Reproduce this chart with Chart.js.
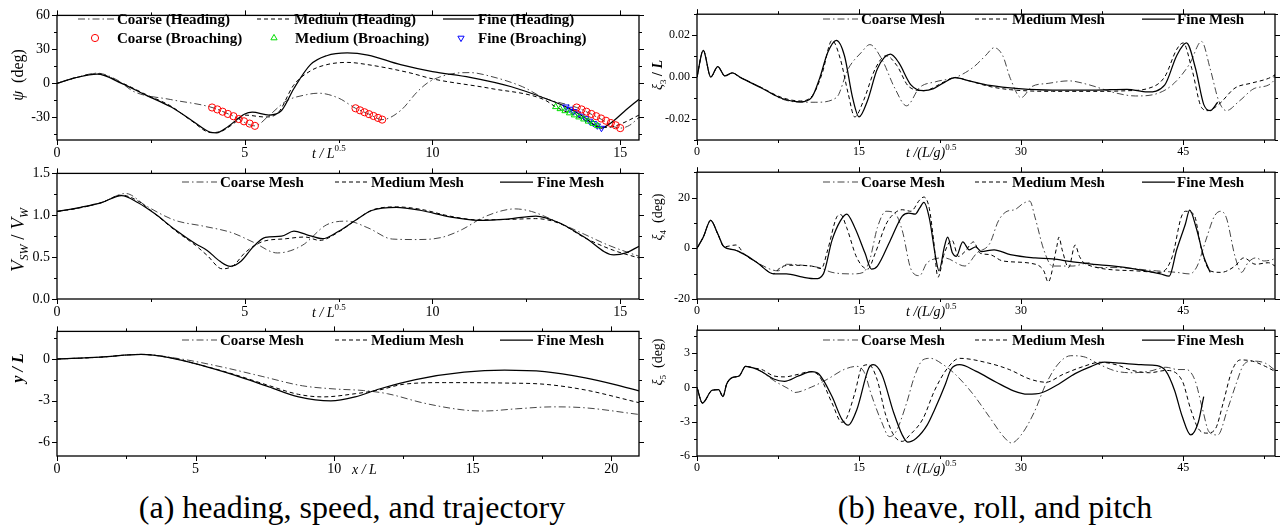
<!DOCTYPE html>
<html>
<head>
<meta charset="utf-8">
<title>Heading, speed, trajectory, heave, roll and pitch - grid study</title>
<script src="https://cdn.jsdelivr.net/npm/chart.js@4.4.1/dist/chart.umd.min.js"></script>
<style>
  html, body { margin: 0; padding: 0; background: #fff; }
  #fig { position: relative; width: 1285px; height: 526px; overflow: hidden; }
  #fig canvas { position: absolute; }
  .cap { position: absolute; top: 491px; font: 32px "Liberation Serif", serif; line-height: 32px; color: #000; white-space: nowrap; transform: translateX(-50%); }
</style>
</head>
<body>
<div id="fig">
  <div class="cap" style="left:352px">(a) heading, speed, and trajectory</div>
  <div class="cap" style="left:995px">(b) heave, roll, and pitch</div>
</div>
<script>
const SERIF = '"Liberation Serif", "Times New Roman", serif';

// ---------- (a) heading psi (deg) vs t / L^0.5 ----------
const headT_coarse = [0,0.5,1.07,1.6,2.05,3.03,4.13,4.7,5.27,5.65,6.1,6.64,6.97,7.5,7.95,8.3,8.66,9.15,9.6,9.9,10.46,11.0,11.55,12.4,12.97,13.84,14.4,15.0,15.25,15.5];
const headV_coarse = [0,5,9,3,-7.3,-14.3,-21.3,-29,-37.5,-28.3,-15.7,-10,-8.7,-13,-22,-27,-32,-24,-7.3,1.1,8.1,9.5,6.2,-3,-12.9,-21.3,-30,-39.5,-37,-30];
const headT_medium = [0,0.5,1.07,1.72,2.38,3.03,3.58,4.1,4.4,4.8,5.0,5.55,5.9,6.3,6.75,7.18,7.73,8.28,9.37,10.0,11.55,12.97,13.28,13.84,14.4,14.65,15.0,15.5];
const headV_medium = [0,5,8.5,0.5,-10,-20,-33,-43.5,-42,-33,-28,-29.7,-25.5,-1.7,11,16.5,18.5,16.5,9.5,4,-4.5,-14.3,-20.7,-29,-37.5,-39,-36,-28];
const headT_fine = [0,0.5,1.07,1.72,2.38,3.03,3.58,4.07,4.25,4.56,5.0,5.2,5.65,5.98,6.31,6.75,7.18,7.73,8.28,9.15,10.0,11.0,12.1,12.97,13.55,14.0,14.5,14.75,15.1,15.5];
const headV_fine = [0,5,8.1,0,-10.6,-20.7,-32.5,-43,-43.7,-38,-27,-25.5,-28,-24,-4.5,16.5,24.4,26.9,25,16.5,10.4,5.3,-3,-12.9,-20.7,-29,-39.5,-35,-25,-14];
// broaching instants
const broachT_coarse = [4.13,4.27,4.41,4.55,4.7,4.84,4.98,5.13,5.27,7.95,8.07,8.19,8.31,8.43,8.55,8.66,13.84,13.97,14.1,14.23,14.36,14.49,14.62,14.75,14.88,15.0];
const broachV_coarse = [-21.3,-23,-25,-27,-29,-31.5,-33.5,-35.5,-37.5,-22,-23.8,-25.5,-27.2,-28.8,-30.5,-32,-21.3,-23,-25,-27,-29,-31,-33,-35,-37,-39.5];
const broachT_medium = [13.28,13.4,13.53,13.65,13.78,13.9,14.03,14.15,14.28,14.4];
const broachV_medium = [-20.7,-22.5,-24.3,-26.2,-28,-29.8,-31.6,-33.5,-35.5,-37.5];
const broachT_fine = [13.55,13.66,13.76,13.87,13.97,14.08,14.18,14.29,14.39,14.5];
const broachV_fine = [-20.7,-22.7,-24.7,-26.8,-28.8,-31,-33.2,-35.3,-37.4,-39.5];

// ---------- (a) speed Vsw / Vw ----------
const spdT_coarse = [0,0.63,1.18,1.83,2.38,3.14,3.9,4.67,5.22,5.87,6.53,7.18,7.73,8.28,8.93,9.58,10.24,10.79,11.33,11.88,12.2,12.64,13.4,14.06,14.7,15.5];
const spdV_coarse = [1.045,1.09,1.15,1.26,1.11,0.94,0.87,0.79,0.68,0.55,0.64,0.886,0.93,0.85,0.716,0.71,0.735,0.83,0.97,1.057,1.076,1.045,0.905,0.77,0.64,0.51];
const spdT_medium = [0,0.63,1.18,1.72,2.16,2.6,3.14,3.69,4.0,4.4,4.7,5.0,5.44,6.1,6.6,7.0,7.5,7.95,8.38,9.04,9.7,10.46,11.22,11.99,12.75,13.4,14.06,14.83,15.5];
const spdV_medium = [1.045,1.09,1.15,1.24,1.17,1.02,0.82,0.64,0.52,0.36,0.4,0.55,0.68,0.72,0.74,0.7,0.8,0.94,1.06,1.1,1.07,0.99,0.945,0.95,0.96,0.9,0.73,0.58,0.49];
const spdT_fine = [0,0.63,1.18,1.72,2.16,2.6,3.14,3.69,4.0,4.34,4.62,4.9,5.22,5.55,5.98,6.31,6.64,7.07,7.5,7.95,8.38,9.04,9.7,10.46,11.22,11.99,12.75,13.4,14.06,14.83,15.15,15.5];
const spdV_fine = [1.045,1.095,1.15,1.235,1.15,1.02,0.83,0.66,0.58,0.45,0.39,0.45,0.62,0.735,0.75,0.81,0.77,0.72,0.81,0.94,1.057,1.095,1.057,0.98,0.94,0.955,0.99,0.905,0.735,0.527,0.55,0.63];

// ---------- (a) trajectory y / L vs x / L ----------
const trkX_coarse = [0,1.57,3.03,4.5,5.95,7.4,8.86,10.03,11.05,11.92,13.24,14.69,15.42,16.59,17.9,19.06,21];
const trkY_coarse = [0,0.14,0.34,0,-0.57,-1.25,-1.93,-2.16,-2.27,-2.5,-3.18,-3.68,-3.75,-3.59,-3.45,-3.52,-4.0];
const trkX_medium = [0,1.57,3.03,4.05,5.22,6.38,7.55,8.72,9.6,10.76,11.63,12.5,13.97,16.15,17.6,19.06,21];
const trkY_medium = [0,0.14,0.34,0.11,-0.45,-1.1,-1.85,-2.55,-2.73,-2.5,-2.23,-1.82,-1.7,-1.73,-1.82,-2.23,-3.15];
const trkX_fine = [0,1.57,3.03,4.05,5.22,6.38,7.55,8.72,9.88,10.76,11.63,12.94,14.69,16.15,17.6,19.06,20.1,21];
const trkY_fine = [0,0.14,0.34,0.11,-0.45,-1.14,-1.93,-2.73,-3.02,-2.73,-2.16,-1.48,-0.95,-0.8,-0.91,-1.36,-1.82,-2.3];

// ---------- (b) heave xi3 / L vs t / (L/g)^0.5 ----------
const heaveT_coarse = [0,0.58,1.27,1.92,2.58,3.27,3.96,5.96,7.88,9.8,11,12.9,14,15.2,16,17.1,18.3,19.4,20.6,22.1,24,25.6,26.7,27.5,28.3,29,30,31,32.5,34.4,36.3,38.7,40.6,42.5,44,45.6,46.7,47.5,48.3,49,50.2,51.7,53.3,53.5];
const heaveV_coarse = [0,0.0128,0,0.005,0.0006,0.002,0,-0.005,-0.0105,-0.012,-0.012,-0.0098,0.004,0.0117,0.0155,0.0086,-0.0052,-0.0137,-0.005,-0.0022,0,0.0048,0.0102,0.014,0.0102,-0.0006,-0.0098,-0.0045,-0.003,-0.0018,-0.0037,-0.0075,-0.009,-0.008,-0.0037,0.0063,0.017,0.004,-0.0114,-0.016,-0.0114,-0.0052,-0.0022,0.0015];
const heaveT_medium = [0,0.58,1.27,1.92,2.58,3.27,3.96,5.96,7.88,9.6,10.8,11.6,12.5,13.27,14.0,14.6,15.4,16.5,17.5,18.5,19.6,21.0,22.9,23.85,25.2,27.1,29,32.9,36.7,39.8,41.7,43.3,44.4,45.0,45.8,46.7,47.3,48.3,49.8,51.3,52.9,53.5];
const heaveV_medium = [0,0.0128,0,0.005,0.0006,0.002,0,-0.005,-0.0098,-0.0114,-0.008,0.002,0.0175,0.0086,-0.008,-0.019,-0.0114,0.004,0.0102,0.0055,-0.0045,-0.0065,-0.0022,-0.0002,-0.0018,-0.0045,-0.006,-0.0068,-0.0068,-0.0065,-0.0055,0.0002,0.0132,0.0163,0.004,-0.0145,-0.016,-0.013,-0.0052,-0.0029,-0.0006,0.001];
const heaveT_fine = [0,0.58,1.27,1.92,2.58,3.27,3.96,5.96,7.88,9.6,10.6,11.35,12.1,12.9,13.65,14.4,15.0,15.77,16.7,17.9,18.65,19.8,20.96,21.9,22.9,23.85,25.2,27.1,29.8,32.9,36.7,39.8,41.7,43.3,44.4,45.3,46.15,46.9,47.5,48.2];
const heaveV_fine = [0,0.0128,0,0.005,0.0006,0.002,0,-0.0052,-0.0102,-0.0118,-0.0098,-0.0006,0.0117,0.0175,0.0102,-0.0098,-0.019,-0.0114,0.004,0.0109,0.0071,-0.0037,-0.0065,-0.0055,-0.0025,-0.0003,-0.0018,-0.004,-0.0055,-0.0062,-0.0062,-0.0058,-0.0071,-0.0037,0.0102,0.0163,0.004,-0.013,-0.016,-0.012];

// ---------- (b) roll xi4 (deg) ----------
const rollT_coarse = [0,0.58,1.27,1.92,2.5,3.46,4.42,5.58,7.5,8.3,9.8,11.3,12.5,14.4,15.4,16,16.7,17.5,18.3,19,19.8,20.6,21.3,22.9,24.8,25.9,27.1,27.9,28.7,29.4,30.2,30.8,31.3,32.1,32.9,34.8,36.3,37.1,38.6,42.5,44.4,45.6,46.3,47.1,47.9,48.5,49,49.8,50.4,51,51.7,52.5,53.3,53.5];
const rollV_coarse = [0,4.4,11,5.7,0.6,-0.6,-2.5,-5.7,-8.9,-6.3,-6.7,-7.6,-9.5,-10.1,-9.5,-4.4,8.2,14.6,13.9,7,-8.2,-10.8,-5.7,-3.8,-7,-1.9,1.9,10.8,14.6,15.2,17.7,18.6,12,-0.6,-7,-7,-5.7,-7.6,-7.6,-8.9,-9.5,-10.1,-7,3.2,12.7,14.6,12,-3.2,-9.5,-5.7,-3.8,-5,-4.4,-4];
const rollT_medium = [0,0.58,1.27,1.92,2.5,3.6,4.42,5.58,7.1,7.7,8.6,10.6,11.5,12.1,12.9,13.3,13.85,14.8,15.8,16.5,17.5,18.3,19,19.8,20.6,21,21.5,21.9,22.3,22.9,23.6,24.2,24.8,25.6,26.2,27.1,28.3,31,32.1,32.5,33.3,33.5,33.8,34.4,35,35.4,36,40.6,42.9,44,44.8,45.2,46,46.7,47.5,48.5,49.8,50.6,51.7,52.9,53.5];
const rollV_medium = [0,4.4,11,5.7,0.6,1.3,-2.5,-5.7,-10,-7.6,-6.7,-7,-8,-0.6,12,13.3,8.2,-3.8,-8.2,-1.9,9.5,13.9,15.2,14.6,19,20.2,15.8,3.2,-11.4,-1.9,3.2,-3.2,-1.3,2.5,-1.9,-2.5,-5,-6,-8.9,-13.3,0.6,4.4,-0.6,-7.6,1.3,-3.2,-6.3,-8.9,-9.5,-3.2,12,14.6,13.3,-0.6,-8.9,-9.5,-7,-3.8,-6.3,-5.7,-7];
const rollT_fine = [0,0.58,1.27,1.92,2.5,3.46,4.42,5.58,7.1,8.27,9.8,10.96,11.7,12.5,13.27,13.85,14.6,15.55,16.15,16.7,17.9,19.0,19.6,20.2,20.6,21.0,21.5,22.1,22.4,22.9,23.2,23.65,24,24.6,25.2,25.8,26.3,27.5,29,31.3,32.9,34.8,36.7,38.6,40.6,42.9,43.7,44.4,45.2,45.6,46.2,46.9,47.5];
const rollV_fine = [0,4.4,11,5.7,0.6,-0.6,-2.5,-5.7,-10.1,-10.1,-11.4,-12,-10.1,3.2,10.8,13.5,8.2,-1.9,-8.2,-7,3.2,12.7,13.9,13.5,15.8,18.1,12,-3.8,-8.9,0.6,4.4,-1.9,-3.2,2.5,-0.6,0.6,-1.3,-0.6,-2.5,-3.8,-4.2,-5.4,-6.3,-7,-8.2,-10.1,-11,-0.6,9.5,15,8.2,-3.2,-9.5];

// ---------- (b) pitch xi5 (deg) ----------
const pitchT_coarse = [0,0.5,1.4,2.0,2.4,2.75,3.3,3.9,4.5,5.2,6,7.1,8.7,9,10.6,12.1,13.6,14.8,15.5,16.1,17.1,17.8,18.4,19.4,20.1,20.9,21.6,22.8,23.9,25.5,27,28.5,29.1,30,31.2,32.3,33.5,34.6,35.8,37.3,38.8,40.3,41.9,43.4,44.5,45.3,46.1,46.8,47.4,48.2,49.1,49.9,50.6,51.4,52.6,53.5];
const pitchV_coarse = [0,-1.37,-0.25,-0.2,-0.8,0.3,0.87,1.0,1.84,1.7,1.37,0.6,-0.25,-0.45,0.03,0.73,1.56,1.84,1.28,-0.53,-3.05,-4.3,-3.9,-1.37,0.87,2.4,2.54,1.98,1.15,-0.53,-2.5,-4.44,-4.86,-4.16,-2.2,0.3,2.12,2.77,2.68,1.98,1.42,1.28,1.42,1.76,1.56,1.56,0.6,-1.93,-3.9,-4.16,-1.93,0.3,1.98,2.3,2.12,1.5];
const pitchT_medium = [0,0.5,1.4,2.0,2.4,2.75,3.3,3.9,4.5,5.2,6,7.1,8.1,9.4,10.4,11.3,12.5,13.4,13.8,14.6,15.3,15.9,16.7,17.4,18.2,19,19.7,20.9,22,23.2,24.3,27,28.9,30.8,32.3,33.9,35.8,37.3,38.8,40.3,41.9,43.4,44.9,45.7,46.4,47.2,48,48.7,49.5,50.3,51.4,52.6,53.5];
const pitchV_medium = [0,-1.37,-0.25,-0.2,-0.8,0.3,0.87,1.0,1.84,1.7,1.56,1.0,0.92,1.15,1.37,1.0,-1.37,-3.05,-2.77,-0.53,1.84,1.98,0.6,-2.2,-4.16,-4.72,-4.16,-2.77,-0.25,1.7,2.54,2.12,1.56,0.73,0.45,1.15,1.84,2.2,1.98,1.48,1.28,1.48,0.6,-1.93,-3.6,-4.0,-3.6,-1.37,1.42,2.4,2.3,1.84,1.4];
const pitchT_fine = [0,0.5,1.4,2.0,2.4,2.75,3.3,3.9,4.5,5.2,6.0,7.1,8.1,9.4,10.6,11.3,12.5,13.4,14.0,14.8,15.9,16.3,17.1,18.2,19,19.5,20.3,21.3,22,23,23.5,24.3,25.8,27.7,29.3,30.6,31.9,33.5,35,36.5,37.7,39.2,41.1,42.6,43.4,44.2,44.9,45.7,46.4,46.9];
const pitchV_fine = [0,-1.37,-0.25,-0.2,-0.8,0.3,0.87,1.0,1.84,1.7,1.37,0.73,0.53,1.0,1.37,1.15,-0.8,-2.77,-3.3,-1.93,1.7,1.98,1.15,-2.2,-4.16,-4.78,-4.44,-3.3,-1.93,0.3,1.56,1.98,1.42,0.45,-0.3,-0.6,-0.47,0.3,1.2,1.84,2.2,2.12,1.98,1.9,1.42,-0.25,-2.5,-4.16,-3.05,-0.8];

// ---------- axis ticks ----------
const tickT_left = [0, 5, 10, 15];
const minorT_left = [2.5, 7.5, 12.5];
const tickX_trk = [0, 5, 10, 15, 20];
const minorX_trk = [2.5, 7.5, 12.5, 17.5];
const tickT_right = [0, 15, 30, 45];
const minorT_right = [7.5, 22.5, 37.5, 52.5];
const tickPsi = [-30, 0, 30, 60];
const minorPsi = [-45, -15, 15, 45];
const tickSpd = [0, 0.5, 1.0, 1.5];
const minorSpd = [0.25, 0.75, 1.25];
const tickTrk = [-6, -3, 0];
const minorTrk = [-4.5, -1.5, 1.5];
const tickHeave = [-0.02, 0, 0.02];
const minorHeave = [-0.03, -0.01, 0.01, 0.03];
const tickRoll = [-20, 0, 20];
const minorRoll = [-10, 10, 30];
const tickPitch = [-6, -3, 0, 3];
const minorPitch = [-4.5, -1.5, 1.5, 4.5];

// ---------- layout (page pixels) ----------
const ROW_TOP = [11, 169, 327];
const ROW_BOT = [140, 299, 456];
const COL = [
  { cx: 0, cw: 648, left: 57, right: 639, tick: 14 },
  { cx: 648, cw: 637, left: 697, right: 1275, tick: 12 }
];

const LINE = {
  coarse: { borderColor: '#3c3c3c', borderWidth: 0.95, borderDash: [7, 3, 1.5, 3], order: 3 },
  medium: { borderColor: '#000', borderWidth: 1, borderDash: [4, 3], order: 2 },
  fine: { borderColor: '#000', borderWidth: 1.25, borderDash: [], order: 1 }
};

function pts(xs, ys) {
  return xs.map(function (x, i) { return { x: x, y: ys[i] }; });
}

function curve(label, xs, ys, kind) {
  return Object.assign({
    label: label, data: pts(xs, ys), pointRadius: 0, fill: false,
    cubicInterpolationMode: 'monotone'
  }, LINE[kind]);
}

function marks(label, xs, ys, color, style, rot) {
  return {
    label: label, data: pts(xs, ys), showLine: false, order: 0,
    pointStyle: style, pointRotation: rot || 0, pointRadius: 3.6,
    pointBorderWidth: 1, pointBorderColor: color,
    pointBackgroundColor: 'rgba(255,255,255,0)', borderColor: color
  };
}

function seg(ctx, x1, y1, x2, y2) {
  ctx.beginPath(); ctx.moveTo(x1, y1); ctx.lineTo(x2, y2); ctx.stroke();
}

function drawRich(ctx, parts, x, y, center) {
  let w = 0;
  parts.forEach(function (p) { ctx.font = p.f; w += ctx.measureText(p.t).width; });
  let cx = center ? x - w / 2 : x;
  parts.forEach(function (p) {
    ctx.font = p.f;
    ctx.fillText(p.t, cx, y + (p.dy || 0));
    cx += ctx.measureText(p.t).width;
  });
}

function drawMark(ctx, ds, x, y) {
  ctx.save();
  ctx.strokeStyle = ds.pointBorderColor;
  ctx.fillStyle = 'rgba(255,255,255,0)';
  ctx.lineWidth = 1;
  Chart.helpers.drawPoint(ctx, { pointStyle: ds.pointStyle, rotation: ds.pointRotation, radius: ds.pointRadius, borderWidth: 1 }, x, y);
  ctx.restore();
}

function f(style, size) { return style + ' ' + size + 'px ' + SERIF; }

function panel(p) {
  const col = COL[p.col];
  const top = ROW_TOP[p.row], bot = ROW_BOT[p.row];
  const cy = top - 11, ch = bot - cy + 24;
  const cv = document.createElement('canvas');
  cv.width = col.cw; cv.height = ch;
  cv.style.left = col.cx + 'px'; cv.style.top = cy + 'px';
  cv.style.width = col.cw + 'px'; cv.style.height = ch + 'px';
  document.getElementById('fig').appendChild(cv);

  const decor = {
    id: 'decor',
    afterDraw: function (chart) {
      const ctx = chart.ctx, a = chart.chartArea;
      const sx = chart.scales.x, sy = chart.scales.y;
      ctx.save();
      ctx.strokeStyle = '#000';
      ctx.setLineDash([]);
      ctx.lineWidth = 1;
      [[p.x.major, 5], [p.x.minor, 3]].forEach(function (g) {
        g[0].forEach(function (v) {
          const px = Math.round(sx.getPixelForValue(v)) + 0.5;
          seg(ctx, px, a.bottom, px, a.bottom + g[1]);
          seg(ctx, px, a.top, px, a.top - g[1]);
        });
      });
      [[p.y.major, 5], [p.y.minor, 3]].forEach(function (g) {
        g[0].forEach(function (v) {
          const py = Math.round(sy.getPixelForValue(v)) + 0.5;
          seg(ctx, a.left, py, a.left - g[1], py);
          seg(ctx, a.right, py, a.right + g[1], py);
        });
      });
      ctx.lineWidth = 1.3;
      ctx.strokeRect(a.left, a.top, a.right - a.left, a.bottom - a.top);

      // legend
      ctx.textBaseline = 'middle';
      p.legend.forEach(function (it) {
        const ds = chart.data.datasets[it.ds];
        const y = it.y - cy;
        if (it.len) {
          ctx.strokeStyle = ds.borderColor;
          ctx.lineWidth = ds.borderWidth;
          ctx.setLineDash(ds.borderDash);
          seg(ctx, it.x - col.cx, y, it.x - col.cx + it.len, y);
          ctx.setLineDash([]);
        } else {
          drawMark(ctx, ds, it.x - col.cx, y);
        }
        ctx.fillStyle = '#000';
        ctx.font = f('bold', 15);
        ctx.fillText(it.text, it.tx - col.cx, y + 1);
      });

      // axis titles
      ctx.textBaseline = 'alphabetic';
      ctx.fillStyle = '#000';
      drawRich(ctx, p.xTitle.parts, p.xTitle.x - col.cx, a.bottom + p.xTitle.dy, false);
      ctx.save();
      ctx.translate(p.yTitle.x - col.cx, p.yTitle.y - cy);
      ctx.rotate(-Math.PI / 2);
      drawRich(ctx, p.yTitle.parts, 0, 5, true);
      ctx.restore();
      ctx.restore();
    }
  };

  const tickFont = { family: SERIF, size: col.tick };
  new Chart(cv, {
    type: 'line',
    data: { datasets: p.datasets },
    options: {
      responsive: false,
      animation: false,
      events: [],
      layout: { padding: { top: top - cy, right: col.cx + col.cw - col.right, left: 0, bottom: 0 } },
      plugins: { legend: { display: false }, tooltip: { enabled: false } },
      scales: {
        x: {
          type: 'linear', min: p.x.min, max: p.x.max,
          afterBuildTicks: function (s) { s.ticks = p.x.major.map(function (v) { return { value: v }; }); },
          afterFit: function (s) { s.height = cy + ch - bot; },
          grid: { display: false, drawTicks: false },
          border: { display: false },
          ticks: { padding: 5, maxRotation: 0, autoSkip: false, color: '#000', font: tickFont,
                   callback: function (v) { return String(v); } }
        },
        y: {
          type: 'linear', min: p.y.min, max: p.y.max,
          afterBuildTicks: function (s) { s.ticks = p.y.major.map(function (v) { return { value: v }; }); },
          afterFit: function (s) { s.width = col.left - col.cx; },
          grid: { display: false, drawTicks: false },
          border: { display: false },
          ticks: { padding: 7, autoSkip: false, color: '#000', font: tickFont,
                   callback: function (v) { return p.y.fmt(v); } }
        }
      }
    },
    plugins: [decor]
  });
}

const int = function (v) { return String(Math.round(v)); };

// legends shared by the single-row panels
function meshLegend(col, y) {
  if (col === 0) {
    return [
      { ds: 0, x: 182, len: 35, tx: 220, y: y, text: 'Coarse Mesh' },
      { ds: 1, x: 335, len: 32, tx: 371, y: y, text: 'Medium Mesh' },
      { ds: 2, x: 500, len: 33, tx: 537, y: y, text: 'Fine Mesh' }
    ];
  }
  return [
    { ds: 0, x: 823, len: 35, tx: 861, y: y, text: 'Coarse Mesh' },
    { ds: 1, x: 975, len: 33, tx: 1012, y: y, text: 'Medium Mesh' },
    { ds: 2, x: 1142, len: 33, tx: 1177, y: y, text: 'Fine Mesh' }
  ];
}

const tTitleLeft = { x: 312, dy: 17.5, parts: [{ t: 't / L', f: f('italic', 14) }, { t: '0.5', f: f('', 9), dy: -7 }] };
const tTitleRight = { x: 906, dy: 16.5, parts: [{ t: 't /(L/g)', f: f('italic', 14) }, { t: '0.5', f: f('', 9), dy: -7 }] };

// heading
panel({
  col: 0, row: 0,
  x: { min: 0, max: 15.5, major: tickT_left, minor: minorT_left },
  y: { min: -50, max: 60, major: tickPsi, minor: minorPsi, fmt: int },
  datasets: [
    curve('Coarse (Heading)', headT_coarse, headV_coarse, 'coarse'),
    curve('Medium (Heading)', headT_medium, headV_medium, 'medium'),
    curve('Fine (Heading)', headT_fine, headV_fine, 'fine'),
    marks('Coarse (Broaching)', broachT_coarse, broachV_coarse, '#ff0000', 'circle', 0),
    marks('Medium (Broaching)', broachT_medium, broachV_medium, '#00dd00', 'triangle', 0),
    marks('Fine (Broaching)', broachT_fine, broachV_fine, '#0000ff', 'triangle', 180)
  ],
  legend: [
    { ds: 0, x: 78, len: 36, tx: 117, y: 19, text: 'Coarse (Heading)' },
    { ds: 1, x: 257, len: 33, tx: 294, y: 19, text: 'Medium (Heading)' },
    { ds: 2, x: 443, len: 31, tx: 478, y: 19, text: 'Fine (Heading)' },
    { ds: 3, x: 95, tx: 117, y: 38, text: 'Coarse (Broaching)' },
    { ds: 4, x: 274, tx: 295, y: 38, text: 'Medium (Broaching)' },
    { ds: 5, x: 461, tx: 478, y: 38, text: 'Fine (Broaching)' }
  ],
  xTitle: tTitleLeft,
  yTitle: { x: 18, y: 75, parts: [{ t: 'ψ', f: f('italic', 16) }, { t: '  (deg)', f: f('', 16) }] }
});

// speed
panel({
  col: 0, row: 1,
  x: { min: 0, max: 15.5, major: tickT_left, minor: minorT_left },
  y: { min: 0, max: 1.5, major: tickSpd, minor: minorSpd, fmt: function (v) { return v.toFixed(1); } },
  datasets: [
    curve('Coarse Mesh', spdT_coarse, spdV_coarse, 'coarse'),
    curve('Medium Mesh', spdT_medium, spdV_medium, 'medium'),
    curve('Fine Mesh', spdT_fine, spdV_fine, 'fine')
  ],
  legend: meshLegend(0, 182),
  xTitle: tTitleLeft,
  yTitle: { x: 19, y: 240, parts: [
    { t: 'V', f: f('italic', 19) }, { t: 'SW', f: f('italic', 12), dy: 4 }, { t: ' / ', f: f('', 19) },
    { t: 'V', f: f('italic', 19) }, { t: 'W', f: f('italic', 12), dy: 4 }] }
});

// trajectory
panel({
  col: 0, row: 2,
  x: { min: 0, max: 21, major: tickX_trk, minor: minorX_trk },
  y: { min: -7, max: 2, major: tickTrk, minor: minorTrk, fmt: int },
  datasets: [
    curve('Coarse Mesh', trkX_coarse, trkY_coarse, 'coarse'),
    curve('Medium Mesh', trkX_medium, trkY_medium, 'medium'),
    curve('Fine Mesh', trkX_fine, trkY_fine, 'fine')
  ],
  legend: meshLegend(0, 340),
  xTitle: { x: 352, dy: 17.5, parts: [{ t: 'x / L', f: f('italic', 14) }] },
  yTitle: { x: 18, y: 368, parts: [{ t: 'y / L', f: f('bold italic', 16) }] }
});

// heave
panel({
  col: 1, row: 0,
  x: { min: 0, max: 53.5, major: tickT_right, minor: minorT_right },
  y: { min: -0.03, max: 0.03, major: tickHeave, minor: minorHeave, fmt: function (v) { return v.toFixed(2); } },
  datasets: [
    curve('Coarse Mesh', heaveT_coarse, heaveV_coarse, 'coarse'),
    curve('Medium Mesh', heaveT_medium, heaveV_medium, 'medium'),
    curve('Fine Mesh', heaveT_fine, heaveV_fine, 'fine')
  ],
  legend: meshLegend(1, 19),
  xTitle: tTitleRight,
  yTitle: { x: 657, y: 75, parts: [{ t: 'ξ', f: f('italic', 14) }, { t: '3', f: f('', 9), dy: 4 }, { t: ' / ', f: f('bold', 14) }, { t: 'L', f: f('bold italic', 14) }] }
});

// roll
panel({
  col: 1, row: 1,
  x: { min: 0, max: 53.5, major: tickT_right, minor: minorT_right },
  y: { min: -20, max: 30, major: tickRoll, minor: minorRoll, fmt: int },
  datasets: [
    curve('Coarse Mesh', rollT_coarse, rollV_coarse, 'coarse'),
    curve('Medium Mesh', rollT_medium, rollV_medium, 'medium'),
    curve('Fine Mesh', rollT_fine, rollV_fine, 'fine')
  ],
  legend: meshLegend(1, 182),
  xTitle: tTitleRight,
  yTitle: { x: 657, y: 217, parts: [{ t: 'ξ', f: f('italic', 14) }, { t: '4', f: f('', 9), dy: 4 }, { t: '  (deg)', f: f('', 14) }] }
});

// pitch
panel({
  col: 1, row: 2,
  x: { min: 0, max: 53.5, major: tickT_right, minor: minorT_right },
  y: { min: -6, max: 5, major: tickPitch, minor: minorPitch, fmt: int },
  datasets: [
    curve('Coarse Mesh', pitchT_coarse, pitchV_coarse, 'coarse'),
    curve('Medium Mesh', pitchT_medium, pitchV_medium, 'medium'),
    curve('Fine Mesh', pitchT_fine, pitchV_fine, 'fine')
  ],
  legend: meshLegend(1, 340),
  xTitle: tTitleRight,
  yTitle: { x: 657, y: 362, parts: [{ t: 'ξ', f: f('italic', 14) }, { t: '5', f: f('', 9), dy: 4 }, { t: '  (deg)', f: f('', 14) }] }
});
</script>
</body>
</html>
